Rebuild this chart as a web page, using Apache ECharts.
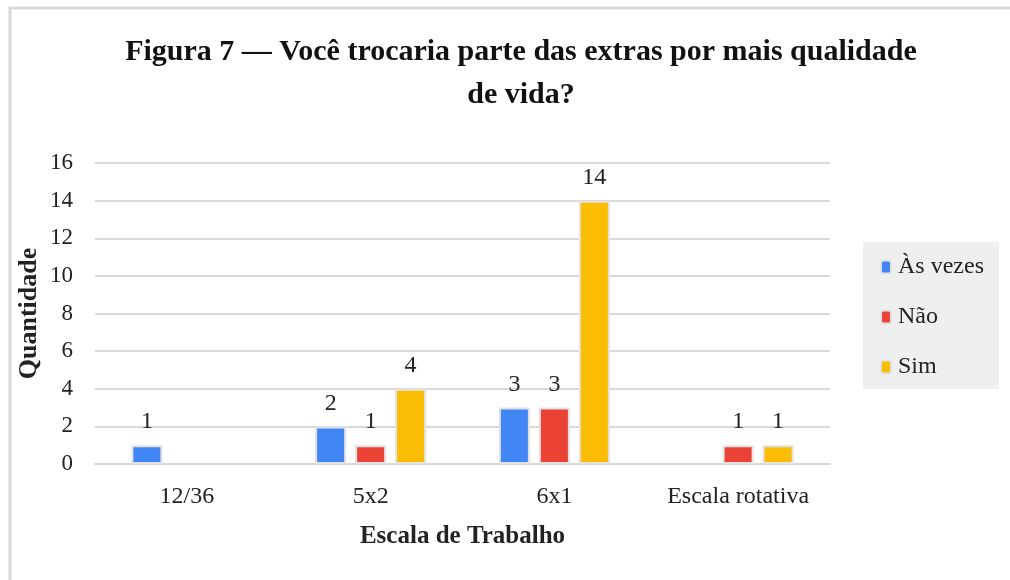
<!DOCTYPE html>
<html>
<head>
<meta charset="utf-8">
<script src="https://cdn.jsdelivr.net/npm/echarts@6/dist/echarts.min.js"></script>
<style>
  html, body { margin: 0; padding: 0; background: #fff; }
  #chart { width: 1010px; height: 580px; }
</style>
</head>
<body>
<div id="chart"></div>
<script>
const categories = ['12/36', '5x2', '6x1', 'Escala rotativa'];
const asVezes = [1, 2, 3, null];
const nao = [null, 1, 3, 1];
const sim = [null, 4, 14, 1];
const yTicks = [0, 2, 4, 6, 8, 10, 12, 14, 16];

const serif = 'Liberation Serif, Times New Roman, serif';
const colors = { blue: '#4285F4', red: '#EA4335', yellow: '#FBBC04' };

const chart = echarts.init(document.getElementById('chart'), null, { renderer: 'canvas' });

function barSeries(name, data, color) {
  return {
    name,
    type: 'bar',
    data,
    barWidth: 31,
    barGap: '29%',
    itemStyle: { color, borderColor: '#e2e2e2', borderWidth: 2 },
    label: {
      show: true,
      position: 'top',
      distance: 11,
      fontFamily: serif,
      fontSize: 24,
      color: '#222',
    },
  };
}

chart.setOption({
  animation: false,
  graphic: [
    {
      type: 'rect',
      z: -10,
      shape: { x: 10, y: 8, width: 1100, height: 700 },
      style: { fill: 'none', stroke: '#d9d9d9', lineWidth: 3 },
    },
  ],
  title: {
    text: 'Figura 7 — Você trocaria parte das extras por mais qualidade\nde vida?',
    left: 516,
    top: 26,
    textAlign: 'center',
    textStyle: {
      fontFamily: serif,
      fontWeight: 'bold',
      fontSize: 30,
      lineHeight: 43,
      color: '#111',
    },
  },
  legend: {
    orient: 'vertical',
    left: 863,
    top: 242,
    backgroundColor: '#efefef',
    padding: [13, 15, 10, 17],
    itemGap: 26,
    itemWidth: 10,
    itemHeight: 13,
    textStyle: { fontFamily: serif, fontSize: 24, color: '#222', padding: [0, 0, 0, 2] },
    data: ['Às vezes', 'Não', 'Sim'],
  },
  grid: { left: 95, right: 180, top: 163, bottom: 116 },
  xAxis: {
    type: 'category',
    data: categories,
    name: 'Escala de Trabalho',
    nameLocation: 'middle',
    nameGap: 60,
    nameTextStyle: { fontFamily: serif, fontWeight: 'bold', fontSize: 25, color: '#222' },
    axisLine: { show: true, lineStyle: { color: '#d9d9d9', width: 2 } },
    axisTick: { show: false },
    axisLabel: { interval: 0, margin: 21, fontFamily: serif, fontSize: 24, color: '#222' },
  },
  yAxis: {
    type: 'value',
    min: yTicks[0],
    max: yTicks[yTicks.length - 1],
    interval: 2,
    name: 'Quantidade',
    nameLocation: 'middle',
    nameGap: 53,
    nameMoveOverlap: false,
    nameTextStyle: { fontFamily: serif, fontWeight: 'bold', fontSize: 26, color: '#222' },
    axisLine: { show: false },
    axisTick: { show: false },
    splitLine: { lineStyle: { color: '#d9d9d9', width: 2 } },
    axisLabel: { margin: 22, fontFamily: serif, fontSize: 23, color: '#222' },
  },
  series: [
    barSeries('Às vezes', asVezes, colors.blue),
    barSeries('Não', nao, colors.red),
    barSeries('Sim', sim, colors.yellow),
  ],
});
</script>
</body>
</html>
